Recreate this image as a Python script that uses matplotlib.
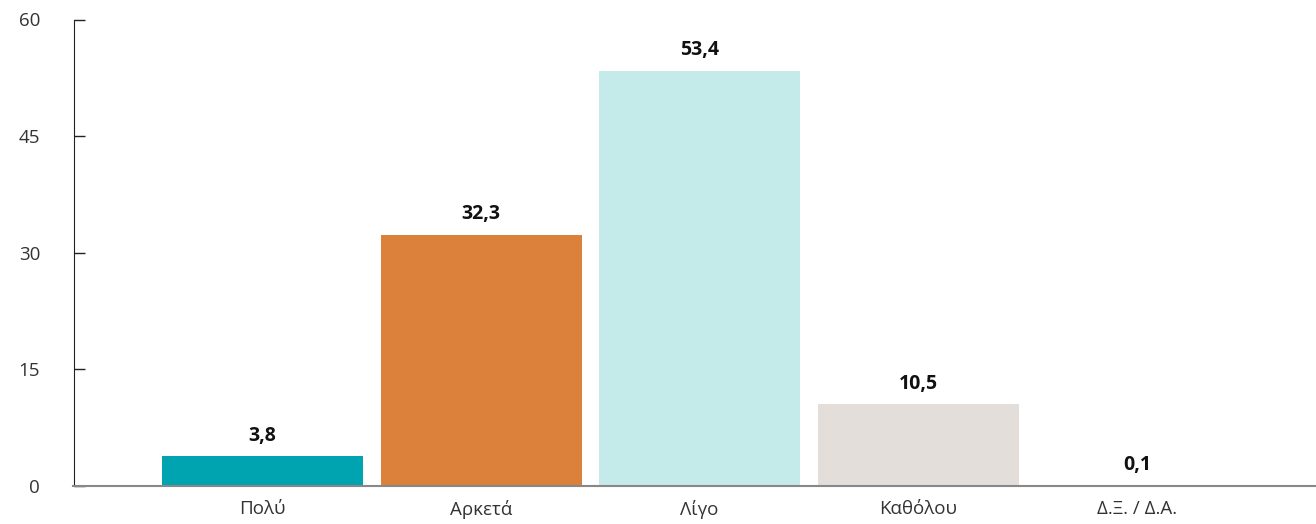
import matplotlib
matplotlib.use("Agg")
import matplotlib.pyplot as plt

categories = ["Πολύ", "Αρκετά", "Λίγο", "Καθόλου", "Δ.Ξ. / Δ.Α."]
values = [3.8, 32.3, 53.4, 10.5, 0.1]
value_labels = ["3,8", "32,3", "53,4", "10,5", "0,1"]
colors = ["#00A4B1", "#DB813B", "#C4EBEA", "#E3DEDA", "#C9C9C9"]
yticks = [0, 15, 30, 45, 60]

plt.rcParams['font.family'] = ['Open Sans', 'DejaVu Sans']

fig = plt.figure(figsize=(13.16, 5.24), dpi=100)
ax = fig.add_axes([73.5/1316, 1-485.7/524, 1-73.5/1316, (485.7-19.5)/524])

x = list(range(len(categories)))
bars = ax.bar(x, values, width=0.92, color=colors, zorder=2)
for xi, v, lab in zip(x, values, value_labels):
    ax.annotate(lab, (xi, v), xytext=(0, 7.5), textcoords="offset points",
                ha="center", va="bottom", fontsize=14, fontweight="bold", color="#111111")

ax.set_xlim(-0.865, 4.82)
ax.set_ylim(0, 60)
ax.set_yticks(yticks)
ax.set_xticks(x)
ax.set_xticklabels(categories)
ax.tick_params(axis="y", direction="in", length=8, width=1, color="#222222",
               pad=24, labelsize=13.5, labelcolor="#333333")
ax.tick_params(axis="x", length=0, pad=10, labelsize=13.5, labelcolor="#333333")
for s in ["top", "right"]:
    ax.spines[s].set_visible(False)
ax.spines["left"].set_color("#222222")
ax.spines["bottom"].set_color("#888888")
ax.spines["bottom"].set_linewidth(1.5)

fig.savefig("out.png", dpi=100)
